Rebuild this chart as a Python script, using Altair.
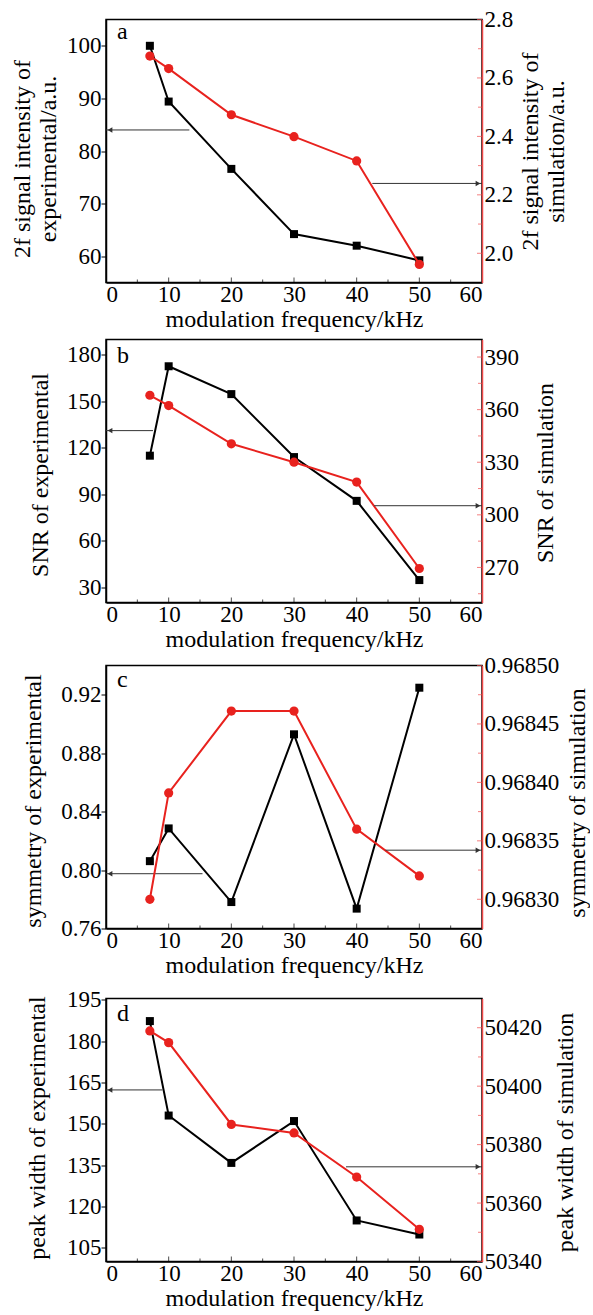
import altair as alt
import pandas as pd

FONT = "Liberation Serif"
RED = "#e8221e"
RED_AXIS = "#f04848"

freq = [7, 10, 20, 30, 40, 50]

a_exp = [100.0, 89.4, 76.6, 64.2, 62.0, 59.2]
a_sim = [2.675, 2.632, 2.474, 2.399, 2.316, 1.962]
b_exp = [114.9, 172.7, 154.7, 114.0, 85.7, 34.5]
b_sim = [368.2, 362.3, 340.5, 330.0, 318.7, 269.4]
c_exp = [0.8061, 0.8285, 0.7781, 0.8929, 0.7736, 0.9248]
c_sim = [0.968300, 0.968391, 0.968461, 0.968461, 0.968360, 0.968320]
d_exp = [187.3, 153.0, 135.8, 151.0, 114.9, 109.8]
d_sim = [50418.9, 50414.9, 50386.9, 50384.0, 50368.9, 50351.0]

x_labels = [0, 10, 20, 30, 40, 50, 60]
x_major = [10, 20, 30, 40, 50]
x_minor = [5, 15, 25, 35, 45, 55]

a_lticks = [60, 70, 80, 90, 100]
a_rticks = [2.0, 2.2, 2.4, 2.6, 2.8]
a_rminor = [2.1, 2.3, 2.5, 2.7]
b_lticks = [30, 60, 90, 120, 150, 180]
b_rticks = [270, 300, 330, 360, 390]
b_rminor = [255, 285, 315, 345, 375]
c_lticks = [0.76, 0.80, 0.84, 0.88, 0.92]
c_rticks = [0.96830, 0.96835, 0.96840, 0.96845, 0.96850]
c_rminor = [0.968325, 0.968375, 0.968425, 0.968475]
d_lticks = [105, 120, 135, 150, 165, 180, 195]
d_rticks = [50340, 50360, 50380, 50400, 50420]
d_rminor = [50350, 50370, 50390, 50410]

# arrows: (x_start, x_end, y)
a_arrows = {"left": (13.3, 0, 84.0), "right": (42.5, 60, 2.239)}
b_arrows = {"left": (7.5, 0, 131.1), "right": (42.8, 60, 305.2)}
c_arrows = {"left": (15.4, 0, 0.7975), "right": (44.6, 60, 0.968342)}
d_arrows = {"left": (9.0, 0, 162.3), "right": (38.3, 60, 50372.4)}

W, H = 376, 263


def panel(letter, exp, sim, ldom, rdom, lticks, rticks, rminor, lfmt, rfmt,
          ltitle, rtitle, arrows, ltx, lty, rtx, rty, letter_y, top_extra):
    df = pd.DataFrame({"f": freq, "exp": exp, "sim": sim})
    xscale = alt.Scale(domain=[0, 60], nice=False)
    xaxis = alt.Axis(values=x_labels, title="modulation frequency/kHz",
                     format="d", ticks=False, labelPadding=1, titlePadding=1)
    ly = alt.Scale(domain=ldom, nice=False, zero=False)
    ry = alt.Scale(domain=rdom, nice=False, zero=False)
    laxis = alt.Axis(values=lticks, format=lfmt, title=ltitle, tickSize=5,
                     labelPadding=0, titleAngle=270, titleX=ltx, titleY=lty,
                     titleAlign="center", titleBaseline="middle")
    raxis = alt.Axis(values=rticks, format=rfmt, title=rtitle, orient="right",
                     domainColor=RED_AXIS, domainWidth=1.5, ticks=False,
                     labelPadding=2, titleAngle=270, titleX=rtx, titleY=rty,
                     titleAlign="center", titleBaseline="middle")

    def X(field):
        return alt.X(field, type="quantitative", scale=xscale, axis=xaxis)

    def LY(field):
        return alt.Y(field, type="quantitative", scale=ly, axis=laxis)

    def RY(field):
        return alt.Y(field, type="quantitative", scale=ry, axis=raxis)

    base = alt.Chart(df)
    exp_line = base.mark_line(color="black", strokeWidth=2).encode(x=X("f"), y=LY("exp"))
    exp_pts = base.mark_point(shape="square", filled=True, color="black",
                              size=64, opacity=1).encode(x=X("f"), y=LY("exp"))

    lx0, lx1, lyv = arrows["left"]
    rx0, rx1, ryv = arrows["right"]
    larr = pd.DataFrame({"f": [lx0], "f2": [lx1], "exp": [lyv]})
    rarr = pd.DataFrame({"f": [rx0], "f2": [rx1], "sim": [ryv]})

    larr_rule = alt.Chart(larr).mark_rule(color="#333333", strokeWidth=1).encode(
        x=X("f"), x2="f2:Q", y=LY("exp"))
    larr_head = alt.Chart(larr).mark_point(shape="triangle-left", filled=True,
                                          color="#333333", size=30, opacity=1,
                                          xOffset=4).encode(x=X("f2"), y=LY("exp"))

    # inward x ticks
    xmaj = alt.Chart(pd.DataFrame({"f": x_major})).mark_tick(
        orient="vertical", size=5, thickness=1, color="black").encode(
        x=X("f"), y=alt.value(H - 2.5))
    xmin = alt.Chart(pd.DataFrame({"f": x_minor})).mark_tick(
        orient="vertical", size=3, thickness=1, color="black").encode(
        x=X("f"), y=alt.value(H - 1.5))

    # invisible spacer to control vertical layout
    spacer = alt.Chart(pd.DataFrame({"s": [0]})).mark_rule(opacity=0).encode(
        x=alt.value(0), x2=alt.value(1), y=alt.value(-top_extra))

    sim_line = base.mark_line(color=RED, strokeWidth=2).encode(x=X("f"), y=RY("sim"))
    sim_pts = base.mark_point(shape="circle", filled=True, color=RED,
                              size=85, opacity=1).encode(x=X("f"), y=RY("sim"))
    rarr_rule = alt.Chart(rarr).mark_rule(color="#333333", strokeWidth=1).encode(
        x=X("f"), x2="f2:Q", y=RY("sim"))
    rarr_head = alt.Chart(rarr).mark_point(shape="triangle-right", filled=True,
                                          color="#333333", size=30, opacity=1,
                                          xOffset=-4).encode(x=X("f2"), y=RY("sim"))
    rmaj = alt.Chart(pd.DataFrame({"sim": rticks})).mark_tick(
        orient="horizontal", size=5, thickness=1, color=RED_AXIS).encode(
        y=RY("sim"), x=alt.value(W - 2.5))
    rmin = alt.Chart(pd.DataFrame({"sim": rminor})).mark_tick(
        orient="horizontal", size=4, thickness=1, color=RED_AXIS).encode(
        y=RY("sim"), x=alt.value(W - 2))

    label = alt.Chart(pd.DataFrame({"t": [letter]})).mark_text(
        font=FONT, fontSize=24, align="left", baseline="alphabetic", color="black"
    ).encode(text="t:N", x=alt.value(11), y=alt.value(letter_y))

    left = alt.layer(exp_line, exp_pts, larr_rule, larr_head, xmaj, xmin, label, spacer)
    right = alt.layer(sim_line, sim_pts, rarr_rule, rarr_head, rmaj, rmin)
    return alt.layer(left, right).resolve_scale(y="independent").properties(
        width=W, height=H)


pa = panel("a", a_exp, a_sim, [55, 105], [1.9, 2.8], a_lticks, a_rticks, a_rminor,
           "d", ".1f", ["2f signal intensity of", "experimental/a.u."],
           ["2f signal intensity of", "simulation/a.u."], a_arrows,
           -84, 139, 48.5, 131.5, 19, 0)
pb = panel("b", b_exp, b_sim, [20, 190], [250, 400], b_lticks, b_rticks, b_rminor,
           "d", "d", "SNR of experimental", "SNR of simulation", b_arrows,
           -66, 135, 63, 133, 23, 6)
pc = panel("c", c_exp, c_sim, [0.76, 0.94], [0.968275, 0.9685], c_lticks, c_rticks,
           c_rminor, ".2f", ".5f", "symmetry of  experimental", "symmetry of simulation",
           c_arrows, -73, 135, 95, 137, 21, 12)
pd_ = panel("d", d_exp, d_sim, [100, 195.5], [50340, 50430], d_lticks, d_rticks,
            d_rminor, "d", "d", "peak width of experimental", "peak width of simulation",
            d_arrows, -69, 129, 83, 133.5, 22, 19)

chart = alt.vconcat(pa, pb, pc, pd_, spacing=0).properties(
    padding={"left": 9, "top": 7.5, "right": 0, "bottom": 0}
).configure(font=FONT).configure_view(
    stroke="black", strokeWidth=1.5
).configure_axis(
    labelFont=FONT, titleFont=FONT, labelFontSize=23, titleFontSize=24,
    titleFontWeight="normal", labelColor="black", titleColor="black",
    domainColor="black", tickColor="black", grid=False, titleLineHeight=26,
    domainWidth=1.5
).configure_concat(spacing=0)

chart.save("out.html", embed_options={"renderer": "svg", "actions": False})
